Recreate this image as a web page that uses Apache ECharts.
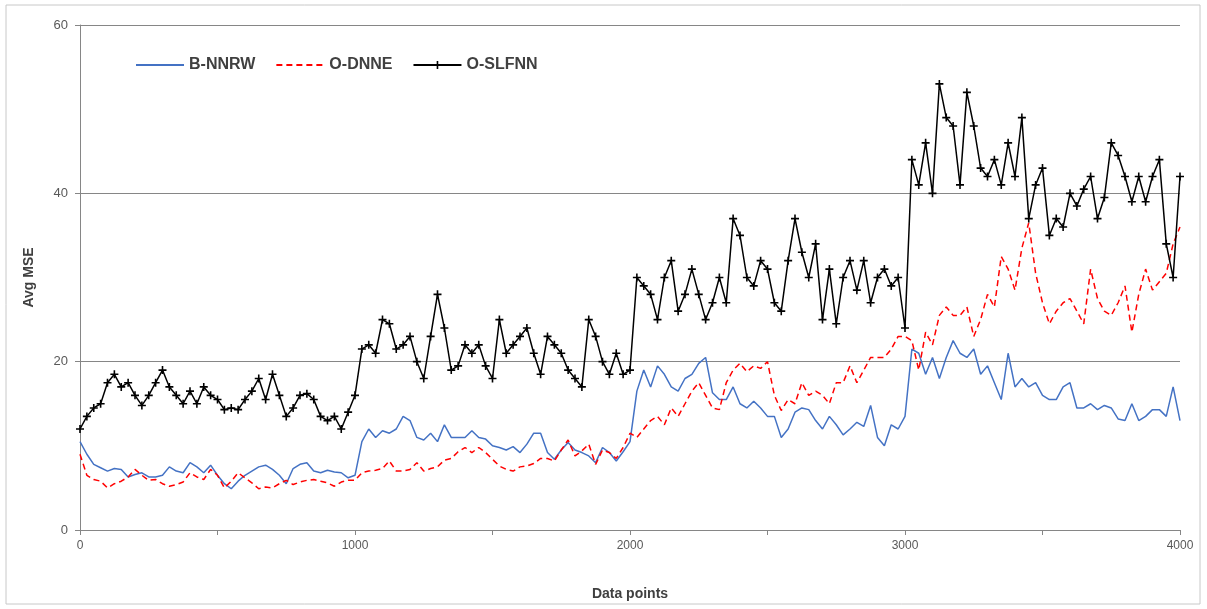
<!DOCTYPE html>
<html>
<head>
<meta charset="utf-8">
<script src="https://cdn.jsdelivr.net/npm/echarts@6/dist/echarts.min.js"></script>
<style>
html,body{margin:0;padding:0;background:#fff;}
#chart{width:1207px;height:609px;}
</style>
</head>
<body>
<div id="chart"></div>
<script>
// x positions: data points 0..4000, one reading every 25 points
var xStep = 25;
var xTicks = [0, 1000, 2000, 3000, 4000];
var yTicks = [0, 20, 40, 60];
var seriesNames = ['B-NNRW', 'O-DNNE', 'O-SLFNN'];

var bNNRW = [
  10.5,9,7.8,7.4,7,7.3,7.2,6.3,6.6,6.8, 6.3,6.3,6.5,7.5,7,6.8,8,7.5,6.8,7.7,
  6.5,5.5,4.9,5.8,6.5,7,7.5,7.7,7.2,6.5, 5.5,7.3,7.8,8,7,6.8,7.1,6.9,6.8,6.2, 6.5,
  10.5,12,11,11.8,11.5,12,13.5,13,11,10.7, 11.5,10.5,12.5,11,11,11,11.8,11,10.8,10,
  9.8,9.5,9.9,9.2,10.2,11.5,11.5,9.2,8.4,9.5, 10.4,9.5,9.2,8.8,8,9.8,9.2,8.2,9.3,10.5,
  16.5,19,17,19.5,18.5,17,16.5,18,18.5,19.8, 20.5,16.3,15.5,15.5,17,15,14.5,15.3,14.5,13.5,
  13.5,11,12,14,14.5,14.3,13,12,13.5,12.5, 11.3,12,12.8,12.3,14.8,11,10,12.5,12,13.5,
  21.5,21,18.5,20.5,18,20.5,22.5,21,20.5,21.5, 18.5,19.5,17.5,15.5,21,17,18,17,17.5,16,
  15.5,15.5,17,17.5,14.5,14.5,15,14.3,14.8,14.5, 13.2,13,15,13,13.5,14.3,14.3,13.5,17,13
];

var oDNNE = [
  9,6.5,6,5.8,5,5.5,5.8,6.3,7.2,6.5, 5.9,6,5.5,5.2,5.4,5.7,6.8,6.3,6,7.2,
  6.5,5,5.8,6.8,6.2,5.6,4.9,5.1,5,5.5, 5.9,5.4,5.7,5.9,6,5.8,5.6,5.2,5.7,5.9, 5.9,
  6.8,7,7.1,7.3,8.2,7,7,7.2,8,7, 7.3,7.5,8.3,8.5,9.3,9.8,9.2,9.8,9.2,8.4,
  7.6,7.2,7,7.5,7.6,7.9,8.5,8.5,8.2,9.5, 10.7,8.8,9.4,10.2,7.8,9.5,9.2,8.5,9.8,11.5,
  11,12,13,13.5,12.5,14.5,13.5,15,16.5,17.5, 16,14.5,14.3,17.5,19,19.8,18.8,19.5,19.2,20,
  16,14.2,15.5,15,17.5,16,16.5,16,15,17.5, 17.5,19.5,17.5,19,20.5,20.5,20.5,21.5,23,23,
  22.5,19,23.5,22,25.5,26.5,25.5,25.5,26.5,23, 25,28,26.5,32.5,31,28.5,33.5,36.5,30.5,27,
  24.5,26,27,27.5,26,24.5,31,27.5,26,25.5, 27,29,23.5,28,31,28.5,29.5,30.5,34,36
];

var oSLFNN = [
  12,13.5,14.5,15,17.5,18.5,17,17.5,16,14.8, 16,17.5,19,17,16,15,16.5,15,17,16,
  15.5,14.3,14.5,14.3,15.5,16.5,18,15.5,18.5,16, 13.5,14.5,16,16.2,15.5,13.5,13,13.5,12,14, 16,
  21.5,22,21,25,24.5,21.5,22,23,20,18, 23,28,24,19,19.5,22,21,22,19.5,18,
  25,21,22,23,24,21,18.5,23,22,21, 19,18,17,25,23,20,18.5,21,18.5,19,
  30,29,28,25,30,32,26,28,31,28, 25,27,30,27,37,35,30,29,32,31,
  27,26,32,37,33,30,34,25,31,24.5, 30,32,28.5,32,27,30,31,29,30,24,
  44,41,46,40,53,49,48,41,52,48, 43,42,44,41,46,42,49,37,41,43,
  35,37,36,40,38.5,40.5,42,37,39.5,46, 44.5,42,39,42,39,42,44,34,30,42
];

function toPairs(arr){
  return arr.map(function(v, i){ return [i * xStep, v]; });
}

var chart = echarts.init(document.getElementById('chart'));
var labelColor = '#595959';
var axisColor = '#868686';
var hiddenSymbol = {color: 'rgba(0,0,0,0)', borderWidth: 0, opacity: 0};

chart.setOption({
  animation: false,
  backgroundColor: '#ffffff',
  graphic: [{
    type: 'rect', shape: {x: 6, y: 5, width: 1194, height: 599},
    style: {fill: 'none', stroke: '#c8c8c8', lineWidth: 1}, silent: true, z: -1
  }],
  grid: {left: 80, right: 27, top: 25, bottom: 79},
  legend: {
    left: 130, top: 52,
    itemWidth: 48, itemHeight: 10, itemGap: 20,
    data: [
      {name: seriesNames[0], itemStyle: hiddenSymbol},
      {name: seriesNames[1], itemStyle: hiddenSymbol},
      {name: seriesNames[2]}
    ],
    textStyle: {fontFamily: 'Liberation Sans, Arial, sans-serif', fontWeight: 'bold', fontSize: 16, color: '#404040'}
  },
  xAxis: {
    type: 'value', min: 0, max: 4000, interval: 500,
    name: 'Data points', nameLocation: 'middle', nameGap: 57,
    nameTextStyle: {fontFamily: 'Liberation Sans Narrow, Liberation Sans, Arial, sans-serif', fontWeight: 'bold', fontSize: 14, color: '#404040'},
    axisLine: {show: true, lineStyle: {color: axisColor, width: 1}},
    axisTick: {show: true, length: 5, lineStyle: {color: axisColor}},
    axisLabel: {
      margin: 10, color: labelColor, fontSize: 12,
      fontFamily: 'Liberation Sans Narrow, Liberation Sans, Arial, sans-serif',
      formatter: function(v){ return xTicks.indexOf(v) >= 0 ? String(v) : ''; }
    },
    splitLine: {show: false}
  },
  yAxis: {
    type: 'value', min: 0, max: 60, interval: 20,
    name: 'Avg MSE', nameLocation: 'middle', nameGap: 44,
    nameTextStyle: {fontFamily: 'Liberation Sans, Arial, sans-serif', fontWeight: 'bold', fontSize: 14, color: '#404040'},
    axisLine: {show: true, lineStyle: {color: axisColor, width: 1}},
    axisTick: {show: true, length: 5, lineStyle: {color: axisColor}},
    axisLabel: {
      margin: 12, color: labelColor, fontSize: 13,
      fontFamily: 'Liberation Sans, Arial, sans-serif',
      formatter: function(v){ return yTicks.indexOf(v) >= 0 ? String(v) : ''; }
    },
    splitLine: {show: true, lineStyle: {color: axisColor, width: 1}}
  },
  series: [
    {
      name: seriesNames[0], type: 'line', data: toPairs(bNNRW),
      symbol: 'none', z: 3,
      lineStyle: {color: '#4472C4', width: 1.5},
      itemStyle: {color: '#4472C4'}
    },
    {
      name: seriesNames[1], type: 'line', data: toPairs(oDNNE),
      symbol: 'none', z: 4,
      lineStyle: {color: '#FF0000', width: 1.5, type: [6, 4]},
      itemStyle: {color: '#FF0000'}
    },
    {
      name: seriesNames[2], type: 'line', data: toPairs(oSLFNN),
      symbol: 'path://M4,0H6V4H10V6H6V10H4V6H0V4H4Z', symbolSize: 8,
      showSymbol: true, showAllSymbol: true, z: 5,
      lineStyle: {color: '#000000', width: 1.5},
      itemStyle: {color: '#000000'}
    }
  ]
});
</script>
</body>
</html>
